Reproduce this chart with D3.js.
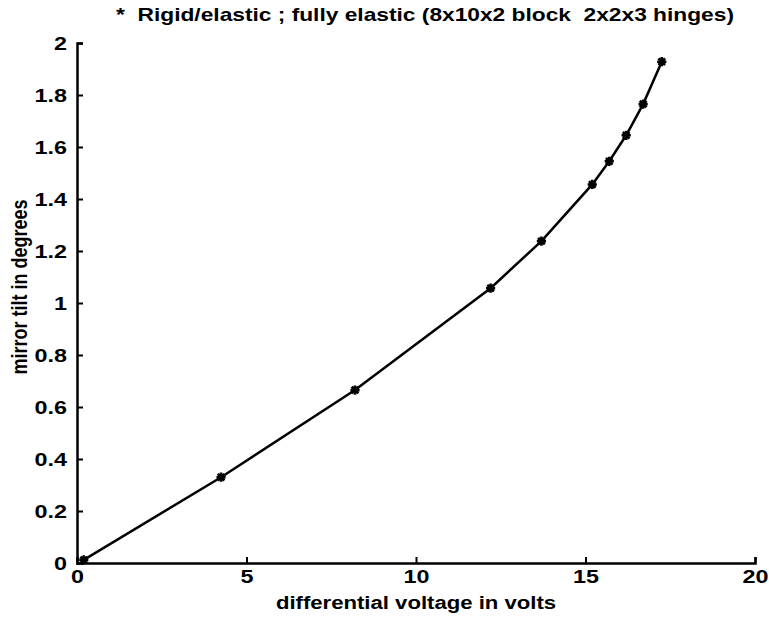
<!DOCTYPE html>
<html>
<head>
<meta charset="utf-8">
<script src="https://cdn.jsdelivr.net/npm/d3@7"></script>
<style>
  body { margin: 0; background: white; }
  text { font-family: "Liberation Sans", Arial, sans-serif; font-weight: bold; fill: black; }
</style>
</head>
<body>
<script>
const width = 769;
const height = 622;
const x_left = 77; const x_right = 755;
const y_top = 43; const y_bottom = 563;
const stretch = 1.23; // the scanned original is wider than tall

// values
const voltage = [0.2, 4.25, 8.2, 12.2, 13.7, 15.2, 15.7, 16.2, 16.7, 17.25];
const tilt = [0.012, 0.33, 0.665, 1.057, 1.238, 1.456, 1.545, 1.645, 1.765, 1.928];
const x_ticks = [0, 5, 10, 15, 20];
const y_ticks = [0, 0.2, 0.4, 0.6, 0.8, 1, 1.2, 1.4, 1.6, 1.8, 2];

const data = voltage.map((v, i) => ({ x: v, y: tilt[i] }));

let svg = d3.select("body")
    .append("svg")
    .attr("width", width)
    .attr("height", height);

let xScale = d3.scaleLinear().domain([0, 20]).range([x_left, x_right]);
let yScale = d3.scaleLinear().domain([0, 2]).range([y_bottom, y_top]);

// bottom axis, ticks pointing inward
let x_axis = d3.axisBottom(xScale)
    .tickValues(x_ticks)
    .tickSizeInner(-6)
    .tickSizeOuter(-6)
    .tickPadding(7)
    .tickFormat(d3.format("d"));

let xg = svg.append("g")
    .attr("transform", `translate(0, ${y_bottom})`)
    .call(x_axis);

// left axis
let y_axis = d3.axisLeft(yScale)
    .tickValues(y_ticks)
    .tickSizeInner(-6)
    .tickSizeOuter(-6)
    .tickPadding(4)
    .tickFormat(d => String(+d.toFixed(1)));

let yg = svg.append("g")
    .attr("transform", `translate(${x_left}, 0)`)
    .call(y_axis);

[xg, yg].forEach(g => {
    g.select(".domain").attr("stroke", "black").attr("stroke-width", 2.5);
    g.selectAll(".tick line").attr("stroke", "black").attr("stroke-width", 2);
    g.selectAll(".tick text")
        .attr("font-family", "Liberation Sans, Arial, sans-serif")
        .attr("font-weight", "bold")
        .attr("font-size", 19)
        .attr("transform", `scale(${stretch}, 1)`);
});
yg.selectAll(".tick text").attr("x", -10 / stretch).attr("dy", "0.36em");

// line
let line = d3.line().x(d => xScale(d.x)).y(d => yScale(d.y));

svg.append("path")
    .datum(data)
    .attr("d", line)
    .attr("fill", "none")
    .attr("stroke", "black")
    .attr("stroke-width", 2.5);

// asterisk markers
const r = 4.6;
const asterisk = `M${-r},0L${r},0M0,${-r}L0,${r}` +
    `M${-r * 0.72},${-r * 0.72}L${r * 0.72},${r * 0.72}M${-r * 0.72},${r * 0.72}L${r * 0.72},${-r * 0.72}`;
svg.selectAll(".mark")
    .data(data)
    .enter()
    .append("path")
    .attr("class", "mark")
    .attr("d", asterisk)
    .attr("transform", d => `translate(${xScale(d.x)}, ${yScale(d.y)})`)
    .attr("fill", "none")
    .attr("stroke", "black")
    .attr("stroke-width", 2.6);

// title
svg.append("text")
    .attr("transform", `translate(425, 21) scale(${stretch}, 1)`)
    .attr("text-anchor", "middle")
    .attr("font-size", 18.5)
    .style("white-space", "pre")
    .text("*  Rigid/elastic ; fully elastic (8x10x2 block  2x2x3 hinges)");

// axis labels
svg.append("text")
    .attr("transform", `translate(${(x_left + x_right) / 2}, 609) scale(${stretch}, 1)`)
    .attr("text-anchor", "middle")
    .attr("font-size", 18)
    .text("differential voltage in volts");

svg.append("text")
    .attr("transform", `translate(27, 287) rotate(-90) scale(1, ${stretch})`)
    .attr("text-anchor", "middle")
    .attr("font-size", 18)
    .text("mirror tilt in degrees");
</script>
</body>
</html>
